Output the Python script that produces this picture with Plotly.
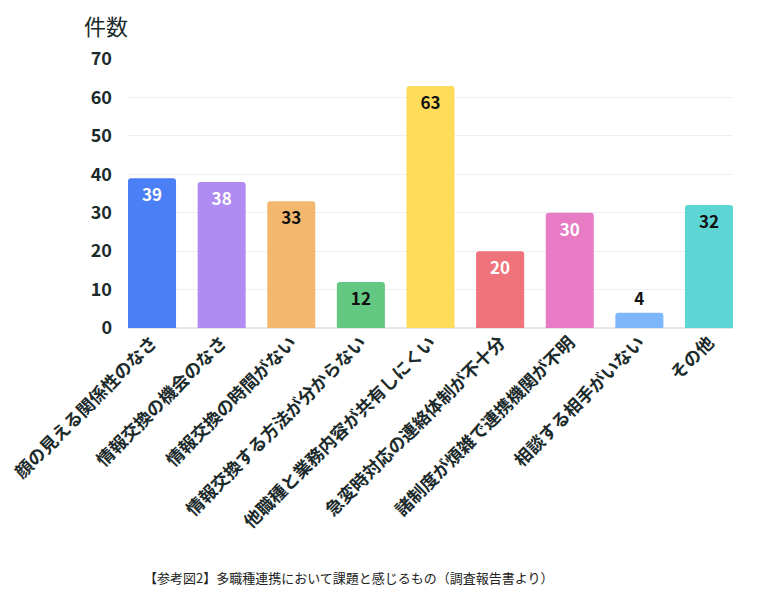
import plotly.graph_objects as go

categories = ["顔の見える関係性のなさ", "情報交換の機会のなさ", "情報交換の時間がない",
              "情報交換する方法が分からない", "他職種と業務内容が共有しにくい",
              "急変時対応の連絡体制が不十分", "諸制度が煩雑で連携機関が不明",
              "相談する相手がいない", "その他"]
values = [39, 38, 33, 12, 63, 20, 30, 4, 32]
colors = ["#4B7FF5", "#B08CF2", "#F3B86E", "#63C882", "#FEDC5A",
          "#EE737A", "#E77CC5", "#7EB6FB", "#5ED5D5"]
text_colors = ["#ffffff", "#ffffff", "#111111", "#111111", "#111111",
               "#ffffff", "#ffffff", "#111111", "#111111"]
text_pos = ["inside"] * 7 + ["outside", "inside"]
y_ticks = [0, 10, 20, 30, 40, 50, 60, 70]
caption = "【参考図2】多職種連携において課題と感じるもの（調査報告書より）"

FONT = "Noto Sans CJK JP"

fig = go.Figure(go.Bar(
    x=list(range(len(categories))), y=values,
    marker=dict(color=colors, cornerradius=3, line=dict(width=0)),
    text=[str(v) for v in values], textposition=text_pos,
    insidetextanchor="end", constraintext="none", cliponaxis=False,
    textfont=dict(family=FONT, size=17, color=text_colors, weight="bold"),
    outsidetextfont=dict(family=FONT, size=17, color="#111111", weight="bold"),
    hoverinfo="skip",
))

fig.update_layout(
    width=769, height=605,
    margin=dict(l=120, r=44, t=51, b=285, autoexpand=False),
    paper_bgcolor="white", plot_bgcolor="white",
    bargap=0.31, showlegend=False,
    font=dict(family=FONT, color="#1b2a2a"),
    xaxis=dict(tickmode="array", tickvals=list(range(len(categories))), ticktext=categories,
               tickangle=-45, range=[-0.345, 8.345], showgrid=False, zeroline=False,
               showline=False, ticks="", ticklen=0, automargin=False,
               ticklabeloverflow="allow",
               tickfont=dict(family=FONT, size=17.5, color="#1b2a2a", weight="bold")),
    yaxis=dict(range=[0, 70], tickvals=y_ticks, showgrid=True, gridcolor="#efefef",
               gridwidth=1, zeroline=True, zerolinecolor="#e6e6e6", ticks="", showline=False,
               ticklabelstandoff=15, automargin=False,
               tickfont=dict(family=FONT, size=18, color="#1b2a2a", weight="bold")),
    annotations=[
        dict(text="件数", xref="paper", yref="paper", x=-0.036, y=1.125, xanchor="center",
             yanchor="middle", showarrow=False, font=dict(family=FONT, size=22, color="#1b2a2a")),
        dict(text=caption, xref="paper", yref="paper", x=0.366, y=-0.929, xanchor="center",
             yanchor="middle", showarrow=False, font=dict(family=FONT, size=13, color="#222222")),
    ],
)

fig.write_html("out.html")
